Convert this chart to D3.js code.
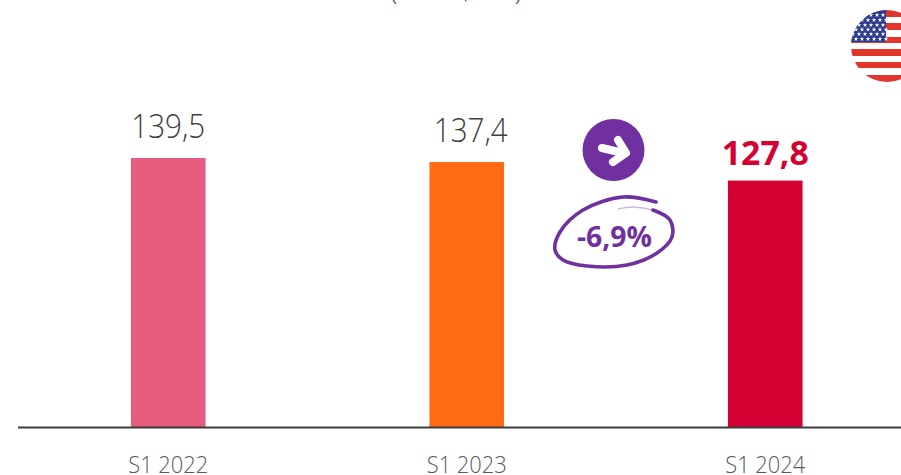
<!DOCTYPE html>
<html><head><meta charset="utf-8">
<style>html,body{margin:0;padding:0;background:#fff;overflow:hidden}svg{display:block}text{font-family:"Open Sans",sans-serif}</style>
<script src="https://cdn.jsdelivr.net/npm/d3@7"></script></head>
<body><svg id="c" width="901" height="475"></svg>
<script>
const categories=["S1 2022","S1 2023","S1 2024"];
const values=[139.5,137.4,127.8];
const labels=["139,5","137,4","127,8"];
const colors=["#e55c7e","#ff6b14","#d50032"];
const unitLabel="(en M$ US)";
const changeLabel="-6,9%";
const purple="#7030a0";
const svg=d3.select("#c");
const x=d3.scaleBand().domain(categories).range([19,914.5]).paddingInner(.75).paddingOuter(.375);
const y=d3.scaleLinear().domain([0,139.5]).range([427,158]);
svg.append("text").attr("x",456).attr("y",-0.5).attr("text-anchor","middle").attr("font-size",28).attr("font-weight",300).attr("fill","#404040").attr("textLength",132).attr("lengthAdjust","spacingAndGlyphs").text(unitLabel);
svg.selectAll("rect.bar").data(values).join("rect").attr("class","bar")
 .attr("x",(d,i)=>x(categories[i])).attr("width",x.bandwidth())
 .attr("y",d=>y(d)).attr("height",d=>y(0)-y(d)).attr("fill",(d,i)=>colors[i]);
svg.selectAll("text.val").data(values).join("text").attr("class","val")
 .attr("x",(d,i)=>x(categories[i])+x.bandwidth()/2+(i==1?4:0)).attr("y",(d,i)=>y(d)-(i==2?16:i==1?20.5:20))
 .attr("text-anchor","middle").attr("font-size",(d,i)=>i==2?34:33)
 .attr("font-weight",(d,i)=>i==2?700:300).attr("fill",(d,i)=>i==2?"#d50032":"#404040")
 .attr("textLength",(d,i)=>i==2?87:74).attr("lengthAdjust","spacingAndGlyphs")
 .text((d,i)=>labels[i]);
const axis=d3.axisBottom(x).tickSize(0).tickPadding(0);
const ag=svg.append("g").attr("transform","translate(0,427)").call(axis);
ag.select(".domain").remove();
ag.selectAll("text").attr("font-size",24).attr("font-weight",300).attr("fill","#595959").attr("dy",null).attr("y",46)
 .attr("textLength",80).attr("lengthAdjust","spacingAndGlyphs").style("font-family",'"Open Sans",sans-serif');
svg.append("line").attr("x1",18).attr("x2",901).attr("y1",427.5).attr("y2",427.5).attr("stroke","#3c3c3c").attr("stroke-width",2);
// arrow badge
svg.append("circle").attr("cx",613.5).attr("cy",150).attr("r",31).attr("fill",purple);
svg.append("path").attr("d","M602 148 L623 153 M618 140 L626 153 L613 162").attr("fill","none").attr("stroke","#fff").attr("stroke-width",8).attr("stroke-linecap","round").attr("stroke-linejoin","round");
// hand-drawn ellipse
const loop=d3.line().curve(d3.curveCatmullRom);
svg.append("path").attr("d",loop([[656,202],[623,197],[583,210],[560,232],[555,250],[563,260],[587,266],[627,265],[657,253],[672,237],[670,220],[653,210]]))
 .attr("fill","none").attr("stroke",purple).attr("stroke-width",3.6).attr("stroke-linecap","round");
svg.append("path").attr("d",loop([[653,210],[633,207],[618,209]])).attr("fill","none").attr("stroke",purple).attr("stroke-opacity",.35).attr("stroke-width",1.5);
svg.append("text").attr("x",614.5).attr("y",247).attr("text-anchor","middle").attr("font-size",28).attr("font-weight",700).attr("fill",purple).attr("textLength",75).attr("lengthAdjust","spacingAndGlyphs").text(changeLabel);
// flag
const defs=svg.append("defs");
defs.append("clipPath").attr("id","fc").append("circle").attr("cx",887).attr("cy",46).attr("r",36);
const f=svg.append("g").attr("clip-path","url(#fc)");
f.append("rect").attr("x",851).attr("y",10).attr("width",72).attr("height",72).attr("fill","#fff");
[[10,7],[23,7],[37,6],[49,7],[62,6],[75,7]].forEach(([yy,h])=>f.append("rect").attr("x",851).attr("y",yy).attr("width",72).attr("height",h).attr("fill","#e2352c"));
f.append("rect").attr("x",851).attr("y",10).attr("width",35).attr("height",32).attr("fill","#2b3990");
[15,20,25,29.5,34,39].forEach((yy,r)=>{for(let k=0;k<6;k++){const xx=853+k*6+(r%2?3:0);f.append("path").attr("transform",`translate(${xx},${yy})`).attr("d",d3.symbol(d3.symbolStar,7)()).attr("fill","#fff");}});
</script></body></html>
